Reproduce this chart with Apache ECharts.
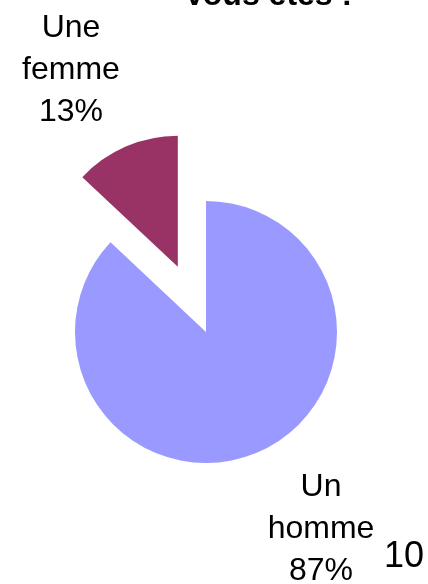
<!DOCTYPE html>
<html>
<head>
<meta charset="utf-8">
<script src="https://cdn.jsdelivr.net/npm/echarts@6/dist/echarts.min.js"></script>
<style>
  html, body { margin: 0; padding: 0; background: #fff; }
  #chart { width: 428px; height: 584px; }
</style>
</head>
<body>
<div id="chart"></div>
<script>
// données
const categories = ["Un homme", "Une femme"];
const values = [87, 13];
const colors = ["#9999FF", "#993366"];
const titleText = "Vous êtes :";
const pageNumber = "10";

const font = "Liberation Sans, Arial, sans-serif";

// position des étiquettes (centre de la ligne du milieu)
const labelSpots = [
  { x: 321, y: 529 },
  { x: 71, y: 70 }
];

const total = values.reduce(function (a, b) { return a + b; }, 0);

const labelTexts = categories.map(function (name, i) {
  const pct = Math.round(values[i] / total * 100);
  return {
    type: "text",
    style: {
      text: name.replace(" ", "\n") + "\n" + pct + "%",
      x: labelSpots[i].x,
      y: labelSpots[i].y,
      align: "center",
      verticalAlign: "middle",
      font: "32px " + font,
      lineHeight: 42,
      fill: "#000"
    }
  };
});

const chart = echarts.init(document.getElementById("chart"));

chart.setOption({
  animation: false,
  backgroundColor: "#fff",
  graphic: [
    {
      type: "text",
      style: {
        text: titleText,
        x: 268,
        y: -4,
        align: "center",
        verticalAlign: "middle",
        font: "bold 32px " + font,
        fill: "#000"
      }
    },
    {
      type: "text",
      style: {
        text: pageNumber,
        x: 404,
        y: 557,
        align: "center",
        verticalAlign: "middle",
        font: "36px " + font,
        fill: "#000"
      }
    }
  ].concat(labelTexts),
  series: [
    {
      type: "pie",
      center: [206, 332],
      radius: 131,
      startAngle: 90,
      clockwise: true,
      selectedMode: "single",
      selectedOffset: 71,
      emphasis: { scale: false },
      label: { show: false },
      labelLine: { show: false },
      data: categories.map(function (name, i) {
        return {
          name: name,
          value: values[i],
          selected: i === 1,
          itemStyle: { color: colors[i] }
        };
      })
    }
  ]
});
</script>
</body>
</html>
